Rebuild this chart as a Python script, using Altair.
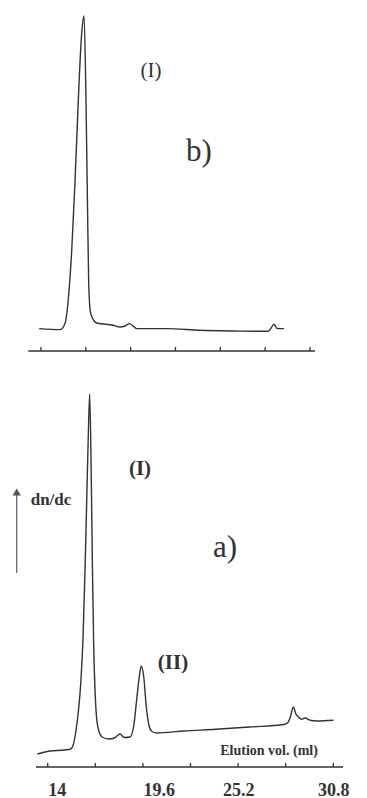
import altair as alt
import pandas as pd

# ---- data ----
# panel b) : elution volume (ml) and detector signal (arbitrary units)
b_ml = [13.89, 15.19, 15.5, 15.7, 15.92, 16.12, 16.33, 16.54, 16.69, 16.81, 16.9, 16.98, 17.1,
        17.48, 18.52, 18.93, 19.25, 19.52, 19.98, 21.85, 23.93, 26.01, 28.2, 28.35, 28.55, 28.76, 29.18]
b_sig = [22.4, 21.4, 27.4, 50.7, 100.7, 167.7, 250.7, 317.7, 335, 250.7, 150.7, 67.7, 37.7,
         28, 25.7, 24, 25, 27.4, 22.4, 22.4, 20.7, 20, 19.7, 22.4, 26.7, 22.4, 22.4]

# panel a)
a_ml = [13.39, 14.14, 15.0, 15.35, 15.5, 15.65, 15.8, 15.95, 16.08, 16.2, 16.3, 16.39, 16.47,
        16.57, 16.63, 16.7, 16.8, 16.95, 17.2, 17.6, 17.93, 18.25, 18.5, 18.84, 19.05, 19.25,
        19.4, 19.5, 19.65, 19.8, 19.95, 20.1, 20.4, 22.0, 23.9, 25.9, 27.9, 28.1, 28.27, 28.45,
        28.6, 28.75, 28.94, 29.14, 29.43, 29.82, 30.8]
a_sig = [13, 16, 17, 18, 22, 35, 55, 85, 130, 200, 270, 333, 373,
         280, 200, 126, 70, 40, 30, 28, 29, 33, 29.5, 30, 40, 70,
         92, 101, 90, 60, 42, 36, 34, 36, 37.7, 40, 42.5, 44, 50, 60,
         53, 50, 47.7, 49, 46.7, 46, 46.7]

tick_values = [14, 16.8, 19.6, 22.4, 25.2, 28, 30.8]
label_values = [14, 19.6, 25.2, 30.8]

# annotation texts: (x in ml, y in signal units, text)
b_peak_labels = [[20.87, 280, "(I)"]]
b_panel_label = [[23.87, 199, "b)"]]
a_peak_labels = [[19.43, 298, "(I)"], [21.37, 104, "(II)"]]
a_panel_label = [[24.43, 219, "a)"]]
a_ylabel = [[14.195, 267, "dn/dc"]]
a_xlabel = [[27.02, 16, "Elution vol. (ml)"]]
arrow_x = [12.177]
arrow_y = [194, 272]
arrow_head_y = [275]

# ---- styles ----
INK = "#333333"
SERIF = "Liberation Serif"
W = 342


def text_layer(rows, xs, ys, xaxis, size, bold):
    df = pd.DataFrame(rows, columns=["x", "y", "label"])
    kw = dict(font=SERIF, color=INK, fontSize=size)
    if bold:
        kw["fontWeight"] = "bold"
    return alt.Chart(df).mark_text(**kw).encode(
        x=alt.X("x:Q", scale=xs, axis=xaxis),
        y=alt.Y("y:Q", scale=ys, axis=None),
        text="label:N")


def panel(ml, sig, xdom, ydom, axis_span, show_axis):
    xs = alt.Scale(domain=xdom, nice=False, zero=False)
    ys = alt.Scale(domain=ydom, nice=False, zero=False)
    df = pd.DataFrame({"ml": ml, "sig": sig})
    if show_axis:
        xaxis = alt.Axis(values=label_values, ticks=False, domain=False, grid=False,
                         labelFont=SERIF, labelFontWeight="bold", labelFontSize=18,
                         labelColor=INK, labelPadding=14, title=None, format=".1~f",
                         labelAlign={"condition": {"test": "datum.value < 20",
                                                   "value": "left"},
                                     "value": "center"},
                         labelFlush=False, labelOverlap=False)
    else:
        xaxis = None
    line = alt.Chart(df).mark_line(color=INK, strokeWidth=1.4, interpolate="monotone").encode(
        x=alt.X("ml:Q", scale=xs, axis=xaxis),
        y=alt.Y("sig:Q", scale=ys, axis=None),
    )
    base_df = pd.DataFrame({"x1": [axis_span[0]], "x2": [axis_span[1]], "y": [0]})
    base = alt.Chart(base_df).mark_rule(color=INK, strokeWidth=1.5).encode(
        x=alt.X("x1:Q", scale=xs, axis=xaxis), x2="x2:Q",
        y=alt.Y("y:Q", scale=ys, axis=None))
    tick_df = pd.DataFrame({"t": tick_values, "y0": [0] * len(tick_values),
                            "y1": [4] * len(tick_values)})
    ticks = alt.Chart(tick_df).mark_rule(color=INK, strokeWidth=1.3).encode(
        x=alt.X("t:Q", scale=xs, axis=xaxis),
        y=alt.Y("y0:Q", scale=ys, axis=None), y2="y1:Q")
    return xs, ys, xaxis, [line, base, ticks]


xs, ys, xa, top_layers = panel(b_ml, b_sig, [11.939, 33.30], [0, 343], [13.207, 31.114], False)
top_layers += [text_layer(b_peak_labels, xs, ys, xa, 21, False),
               text_layer(b_panel_label, xs, ys, xa, 31, False)]
top = alt.layer(*top_layers).properties(width=W, height=343)

xs, ys, xa, bot_layers = panel(a_ml, a_sig, [11.665, 31.78], [0, 386], [13.312, 31.37], True)
shaft = alt.Chart(pd.DataFrame({"x": arrow_x, "y1": [arrow_y[0]], "y2": [arrow_y[1]]})).mark_rule(
    color="#666666", strokeWidth=1.3).encode(
    x=alt.X("x:Q", scale=xs, axis=xa), y=alt.Y("y1:Q", scale=ys, axis=None), y2="y2:Q")
head = alt.Chart(pd.DataFrame({"x": arrow_x, "y": arrow_head_y})).mark_point(
    shape="triangle-up", filled=True, color="#555555", size=70, opacity=1).encode(
    x=alt.X("x:Q", scale=xs, axis=xa), y=alt.Y("y:Q", scale=ys, axis=None))
bot_layers += [text_layer(a_peak_labels, xs, ys, xa, 21, True),
               text_layer(a_panel_label, xs, ys, xa, 31, False),
               text_layer(a_ylabel, xs, ys, xa, 17, True),
               text_layer(a_xlabel, xs, ys, xa, 14, True),
               shaft, head]
bottom = alt.layer(*bot_layers).properties(width=W, height=386)

chart = alt.vconcat(top, bottom, spacing=29).properties(padding=0).configure_view(stroke=None)
chart.save("out.html", embed_options={"renderer": "svg", "actions": False})
